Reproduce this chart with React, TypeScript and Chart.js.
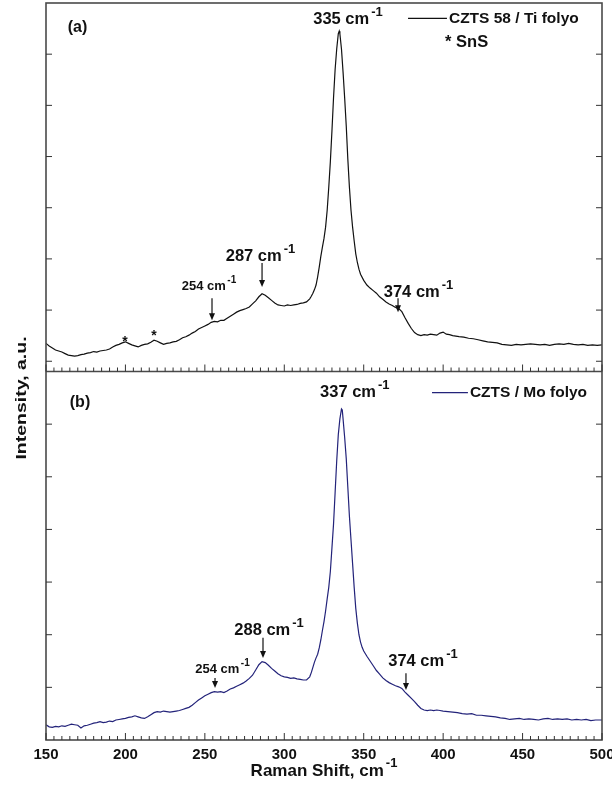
import { useEffect, useRef } from "react";
import { Chart, registerables } from "chart.js";

Chart.register(...registerables);

const FONT = 'Arial, "Liberation Sans", Helvetica, sans-serif';

// (a) CZTS 58 on Ti foil: [Raman shift cm-1, intensity a.u.]
const spectrumTi: [number, number][] = [
  [150, 0.35], [152, 0.30], [154, 0.26], [156, 0.22], [158, 0.20], [160, 0.18], [162, 0.15], [164, 0.12],
  [166, 0.11], [168, 0.10], [170, 0.11], [172, 0.13], [174, 0.14], [176, 0.16], [178, 0.17], [180, 0.19],
  [182, 0.18], [184, 0.20], [186, 0.21], [188, 0.22], [190, 0.24], [192, 0.28], [194, 0.31], [196, 0.33],
  [198, 0.36], [200, 0.38], [202, 0.35], [204, 0.32], [206, 0.30], [208, 0.28], [210, 0.31], [212, 0.33],
  [214, 0.34], [216, 0.37], [218, 0.41], [220, 0.39], [222, 0.36], [224, 0.33], [226, 0.35], [228, 0.36],
  [230, 0.38], [232, 0.39], [234, 0.42], [236, 0.46], [238, 0.48], [240, 0.51], [242, 0.55], [244, 0.58],
  [246, 0.63], [248, 0.66], [250, 0.69], [252, 0.72], [254, 0.76], [256, 0.78], [258, 0.77], [260, 0.80],
  [262, 0.80], [264, 0.84], [266, 0.88], [268, 0.92], [270, 0.96], [272, 0.99], [274, 1.01], [276, 1.03],
  [278, 1.06], [280, 1.12], [282, 1.18], [284, 1.26], [286, 1.32], [288, 1.29], [290, 1.24], [292, 1.19],
  [294, 1.14], [296, 1.10], [298, 1.09], [300, 1.08], [302, 1.10], [304, 1.09], [306, 1.10], [308, 1.11],
  [310, 1.13], [312, 1.14], [314, 1.16], [316, 1.22], [317, 1.27], [318, 1.33], [319, 1.40], [320, 1.49],
  [321, 1.65], [322, 1.84], [323, 2.05], [324, 2.23], [325, 2.40], [326, 2.62], [327, 2.95], [328, 3.40],
  [329, 3.90], [330, 4.50], [331, 5.15], [332, 5.70], [333, 6.10], [334, 6.40], [334.6, 6.45], [335, 6.40],
  [336, 6.10], [337, 5.65], [338, 5.15], [339, 4.60], [340, 3.95], [341, 3.40], [342, 2.95], [343, 2.62],
  [344, 2.35], [345, 2.10], [346, 1.93], [347, 1.80], [348, 1.70], [350, 1.58], [352, 1.49], [354, 1.43],
  [356, 1.38], [358, 1.33], [360, 1.26], [362, 1.21], [364, 1.16], [366, 1.12], [368, 1.09], [370, 1.05],
  [372, 1.03], [374, 0.97], [376, 0.85], [378, 0.74], [380, 0.64], [382, 0.56], [384, 0.52], [386, 0.50],
  [388, 0.52], [390, 0.51], [392, 0.53], [394, 0.52], [396, 0.51], [398, 0.55], [400, 0.57], [402, 0.53],
  [404, 0.52], [406, 0.50], [408, 0.49], [410, 0.48], [413, 0.47], [416, 0.45], [419, 0.44], [422, 0.42],
  [425, 0.40], [428, 0.38], [431, 0.37], [434, 0.36], [437, 0.33], [440, 0.32], [443, 0.31], [446, 0.33],
  [449, 0.32], [452, 0.33], [455, 0.34], [458, 0.33], [461, 0.32], [464, 0.33], [467, 0.31], [470, 0.33],
  [473, 0.34], [476, 0.33], [479, 0.35], [482, 0.33], [485, 0.32], [488, 0.33], [491, 0.31], [494, 0.32],
  [497, 0.31], [500, 0.32],
];

// (b) CZTS on Mo foil: [Raman shift cm-1, intensity a.u.]
const spectrumMo: [number, number][] = [
  [150, 0.29], [152, 0.25], [154, 0.24], [156, 0.26], [158, 0.25], [160, 0.27], [162, 0.26], [164, 0.28],
  [166, 0.30], [168, 0.29], [170, 0.28], [172, 0.23], [174, 0.27], [176, 0.28], [178, 0.30], [180, 0.32],
  [182, 0.33], [184, 0.35], [186, 0.33], [188, 0.34], [190, 0.36], [192, 0.35], [194, 0.38], [196, 0.39],
  [198, 0.40], [200, 0.41], [202, 0.43], [204, 0.44], [206, 0.46], [208, 0.44], [210, 0.42], [212, 0.41],
  [214, 0.44], [216, 0.48], [218, 0.52], [220, 0.54], [222, 0.53], [224, 0.55], [226, 0.54], [228, 0.53],
  [230, 0.54], [232, 0.55], [234, 0.56], [236, 0.58], [238, 0.60], [240, 0.62], [242, 0.66], [244, 0.71],
  [246, 0.76], [248, 0.80], [250, 0.84], [252, 0.87], [254, 0.90], [256, 0.92], [258, 0.91], [260, 0.92],
  [262, 0.90], [264, 0.93], [266, 0.97], [268, 0.99], [270, 1.02], [272, 1.05], [274, 1.08], [276, 1.12],
  [278, 1.17], [280, 1.23], [282, 1.33], [284, 1.43], [286, 1.49], [288, 1.47], [290, 1.42], [292, 1.36],
  [294, 1.31], [296, 1.26], [298, 1.22], [300, 1.20], [302, 1.19], [304, 1.17], [306, 1.18], [308, 1.16],
  [310, 1.15], [312, 1.14], [314, 1.14], [316, 1.20], [317, 1.28], [318, 1.38], [319, 1.48], [320, 1.56],
  [321, 1.63], [322, 1.75], [323, 1.90], [324, 2.08], [325, 2.25], [326, 2.45], [327, 2.68], [328, 2.90],
  [329, 3.20], [330, 3.65], [331, 4.10], [332, 4.70], [333, 5.30], [334, 5.80], [335, 6.10], [336, 6.29],
  [336.5, 6.27], [337, 6.10], [338, 5.75], [339, 5.35], [340, 4.80], [341, 4.25], [342, 3.80], [343, 3.35],
  [344, 2.90], [345, 2.50], [346, 2.22], [347, 2.00], [348, 1.86], [349, 1.76], [350, 1.69], [352, 1.59],
  [354, 1.50], [356, 1.41], [358, 1.32], [360, 1.25], [362, 1.18], [364, 1.13], [366, 1.09], [368, 1.06],
  [370, 1.03], [372, 1.01], [374, 0.98], [376, 0.91], [378, 0.85], [380, 0.79], [382, 0.73], [384, 0.66],
  [386, 0.60], [388, 0.57], [390, 0.56], [392, 0.57], [394, 0.56], [396, 0.57], [398, 0.56], [400, 0.55],
  [403, 0.54], [406, 0.53], [409, 0.52], [412, 0.50], [415, 0.49], [418, 0.50], [421, 0.47], [424, 0.47],
  [427, 0.46], [430, 0.45], [433, 0.44], [436, 0.42], [439, 0.41], [442, 0.39], [445, 0.40], [448, 0.41],
  [451, 0.39], [454, 0.40], [457, 0.39], [460, 0.38], [463, 0.40], [466, 0.41], [469, 0.39], [472, 0.40],
  [475, 0.39], [478, 0.40], [481, 0.38], [484, 0.39], [487, 0.38], [490, 0.39], [493, 0.37], [496, 0.38],
  [500, 0.38],
];

const seriesNames = ["CZTS 58 / Ti folyo", "CZTS / Mo folyo"];
const seriesColors = ["#111111", "#23237a"];
const shiftRange = [150, 500];
const intensityTicks = [0, 1, 2, 3, 4, 5, 6];

type Panel = "yTi" | "yMo";
type PeakLabel = { axis: Panel; x: number; y: number; text: string; sup: string; size: number };
type Arrow = { axis: Panel; x: number; from: number; to: number };

const peakLabels: PeakLabel[] = [
  { axis: "yTi", x: 340.1, y: 6.68, text: "335 cm", sup: "-1", size: 16.5 },
  { axis: "yTi", x: 285.0, y: 2.05, text: "287 cm", sup: "-1", size: 16.5 },
  { axis: "yTi", x: 252.6, y: 1.47, text: "254 cm", sup: "-1", size: 13 },
  { axis: "yTi", x: 384.5, y: 1.35, text: "374 cm", sup: "-1", size: 16.5 },
  { axis: "yMo", x: 344.4, y: 6.6, text: "337 cm", sup: "-1", size: 16.5 },
  { axis: "yMo", x: 290.4, y: 2.09, text: "288 cm", sup: "-1", size: 16.5 },
  { axis: "yMo", x: 261.1, y: 1.35, text: "254 cm", sup: "-1", size: 13 },
  { axis: "yMo", x: 387.3, y: 1.5, text: "374 cm", sup: "-1", size: 16.5 },
];

const arrows: Arrow[] = [
  { axis: "yTi", x: 286.0, from: 1.92, to: 1.45 },
  { axis: "yTi", x: 254.5, from: 1.23, to: 0.8 },
  { axis: "yTi", x: 371.6, from: 1.23, to: 0.96 },
  { axis: "yMo", x: 286.6, from: 1.94, to: 1.56 },
  { axis: "yMo", x: 256.4, from: 1.18, to: 0.99 },
  { axis: "yMo", x: 376.6, from: 1.27, to: 0.95 },
];

// SnS impurity marks
const snsMarks: [number, number][] = [
  [199.7, 0.43],
  [218.0, 0.55],
];

const TEXT = "#111111";

function drawSupLabel(
  ctx: CanvasRenderingContext2D,
  cx: number,
  cy: number,
  text: string,
  sup: string,
  size: number,
  align: "center" | "left" = "center"
) {
  const supSize = Math.round(size * 0.78);
  ctx.font = `bold ${size}px ${FONT}`;
  const w1 = ctx.measureText(text).width;
  ctx.font = `bold ${supSize}px ${FONT}`;
  const w2 = ctx.measureText(sup).width;
  const gap = size * 0.12;
  const start = align === "center" ? cx - (w1 + gap + w2) / 2 : cx;
  ctx.textAlign = "left";
  ctx.textBaseline = "middle";
  ctx.fillStyle = TEXT;
  ctx.font = `bold ${size}px ${FONT}`;
  ctx.fillText(text, start, cy);
  ctx.font = `bold ${supSize}px ${FONT}`;
  ctx.fillText(sup, start + w1 + gap, cy - size * 0.42);
}

const decorations = {
  id: "decorations",
  afterDraw(chart: Chart) {
    const { ctx, chartArea: a } = chart;
    const sx: any = chart.scales.x;
    const yTi: any = chart.scales.yTi;
    const yMo: any = chart.scales.yMo;
    const mid = yTi.bottom;
    ctx.save();

    const seg = (x1: number, y1: number, x2: number, y2: number) => {
      ctx.beginPath();
      ctx.moveTo(x1, y1);
      ctx.lineTo(x2, y2);
      ctx.stroke();
    };

    // frame and panel separator
    ctx.strokeStyle = "#4a4a4a";
    ctx.lineWidth = 1.6;
    ctx.strokeRect(a.left, a.top, a.right - a.left, a.bottom - a.top);
    seg(a.left, mid, a.right, mid);

    // inward intensity ticks, both sides
    ctx.lineWidth = 1;
    ctx.strokeStyle = "#333";
    for (const v of intensityTicks) {
      const p = yTi.getPixelForValue(v);
      seg(a.left, p, a.left + 6, p);
      seg(a.right, p, a.right - 6, p);
      if (v > 0) {
        const q = yMo.getPixelForValue(v);
        seg(a.left, q, a.left + 6, q);
        seg(a.right, q, a.right - 6, q);
      }
    }

    // shift ticks: major every 50, minor every 5
    for (let v = shiftRange[0]; v <= shiftRange[1]; v += 5) {
      const px = sx.getPixelForValue(v);
      const len = v % 50 === 0 ? 7 : 4;
      seg(px, mid, px, mid - len);
      seg(px, a.bottom, px, a.bottom - len);
    }

    // peak labels and arrows
    for (const l of peakLabels) {
      const sc: any = chart.scales[l.axis];
      drawSupLabel(ctx, sx.getPixelForValue(l.x), sc.getPixelForValue(l.y), l.text, l.sup, l.size);
    }
    ctx.strokeStyle = TEXT;
    ctx.fillStyle = TEXT;
    ctx.lineWidth = 1.2;
    for (const ar of arrows) {
      const sc: any = chart.scales[ar.axis];
      const px = sx.getPixelForValue(ar.x);
      const p1 = sc.getPixelForValue(ar.from);
      const p2 = sc.getPixelForValue(ar.to);
      seg(px, p1, px, p2 - 5);
      ctx.beginPath();
      ctx.moveTo(px - 3, p2 - 7);
      ctx.lineTo(px + 3, p2 - 7);
      ctx.lineTo(px, p2);
      ctx.closePath();
      ctx.fill();
    }

    ctx.font = `bold 14px ${FONT}`;
    ctx.textAlign = "center";
    ctx.textBaseline = "middle";
    for (const [mx, my] of snsMarks) {
      ctx.fillText("*", sx.getPixelForValue(mx), yTi.getPixelForValue(my) + 3);
    }

    // panel tags
    ctx.font = `bold 16px ${FONT}`;
    ctx.fillText("(a)", sx.getPixelForValue(169.8), yTi.getPixelForValue(6.52));
    ctx.fillText("(b)", sx.getPixelForValue(171.4), yMo.getPixelForValue(6.41));

    // legends
    ctx.textAlign = "left";
    ctx.font = `bold 15.5px ${FONT}`;
    ctx.lineWidth = 1.2;
    const legends: [Panel, number, number, number, number][] = [
      ["yTi", 377.9, 402.4, 6.7, 0],
      ["yMo", 393.0, 415.6, 6.6, 1],
    ];
    for (const [ax, x1, x2, yv, idx] of legends) {
      const sc: any = chart.scales[ax];
      const py = sc.getPixelForValue(yv);
      ctx.strokeStyle = seriesColors[idx];
      seg(sx.getPixelForValue(x1), py, sx.getPixelForValue(x2), py);
      ctx.fillStyle = TEXT;
      ctx.fillText(seriesNames[idx], sx.getPixelForValue(x2) + 2, py);
    }
    ctx.font = `bold 16.5px ${FONT}`;
    ctx.fillText("* SnS", sx.getPixelForValue(401.2), yTi.getPixelForValue(6.23));

    // axis titles
    drawSupLabel(ctx, (a.left + a.right) / 2, 771, "Raman Shift, cm", "-1", 17);
    ctx.save();
    ctx.translate(22, 398);
    ctx.rotate(-Math.PI / 2);
    ctx.scale(1.3, 1);
    ctx.font = `bold 15px ${FONT}`;
    ctx.textAlign = "center";
    ctx.textBaseline = "middle";
    ctx.fillStyle = TEXT;
    ctx.fillText("Intensity, a.u.", 0, 0);
    ctx.restore();

    ctx.restore();
  },
};

export default function App() {
  const canvasRef = useRef<HTMLCanvasElement | null>(null);

  useEffect(() => {
    const canvas = canvasRef.current;
    if (!canvas) return;
    const hiddenY = (min: number, max: number) => ({
      type: "linear" as const,
      position: "right" as const,
      stack: "panels",
      stackWeight: 1,
      min,
      max,
      display: true,
      ticks: { display: false },
      grid: { display: false, drawTicks: false },
      border: { display: false },
      afterFit(scale: any) {
        scale.width = 0;
        scale.paddingTop = 0;
        scale.paddingBottom = 0;
      },
    });
    const chart = new Chart(canvas, {
      type: "line",
      data: {
        datasets: [
          {
            label: seriesNames[0],
            data: spectrumTi.map(([x, y]) => ({ x, y })),
            yAxisID: "yTi",
            borderColor: seriesColors[0],
            borderWidth: 1.2,
            pointRadius: 0,
            tension: 0,
          },
          {
            label: seriesNames[1],
            data: spectrumMo.map(([x, y]) => ({ x, y })),
            yAxisID: "yMo",
            borderColor: seriesColors[1],
            borderWidth: 1.2,
            pointRadius: 0,
            tension: 0,
          },
        ],
      },
      options: {
        responsive: false,
        animation: false,
        devicePixelRatio: 1,
        layout: { autoPadding: false, padding: { left: 46, top: 3, right: 10, bottom: 0 } },
        plugins: { legend: { display: false }, tooltip: { enabled: false } },
        scales: {
          x: {
            type: "linear",
            position: "bottom",
            min: shiftRange[0],
            max: shiftRange[1],
            ticks: {
              stepSize: 50,
              padding: 6,
              color: TEXT,
              font: { family: FONT, size: 15, weight: "bold" },
              maxRotation: 0,
            },
            grid: { display: false, drawTicks: false },
            border: { display: false },
            afterFit(scale: any) {
              scale.height = 49;
              scale.paddingLeft = 0;
              scale.paddingRight = 0;
            },
          },
          yTi: hiddenY(-0.2, 7),
          yMo: hiddenY(0, 7),
        },
      } as any,
      plugins: [decorations],
    });
    return () => chart.destroy();
  }, []);

  return (
    <div style={{ position: "absolute", left: 0, top: 0, width: 612, height: 789, background: "#fff" }}>
      <canvas ref={canvasRef} width={612} height={789} style={{ display: "block" }} />
    </div>
  );
}
